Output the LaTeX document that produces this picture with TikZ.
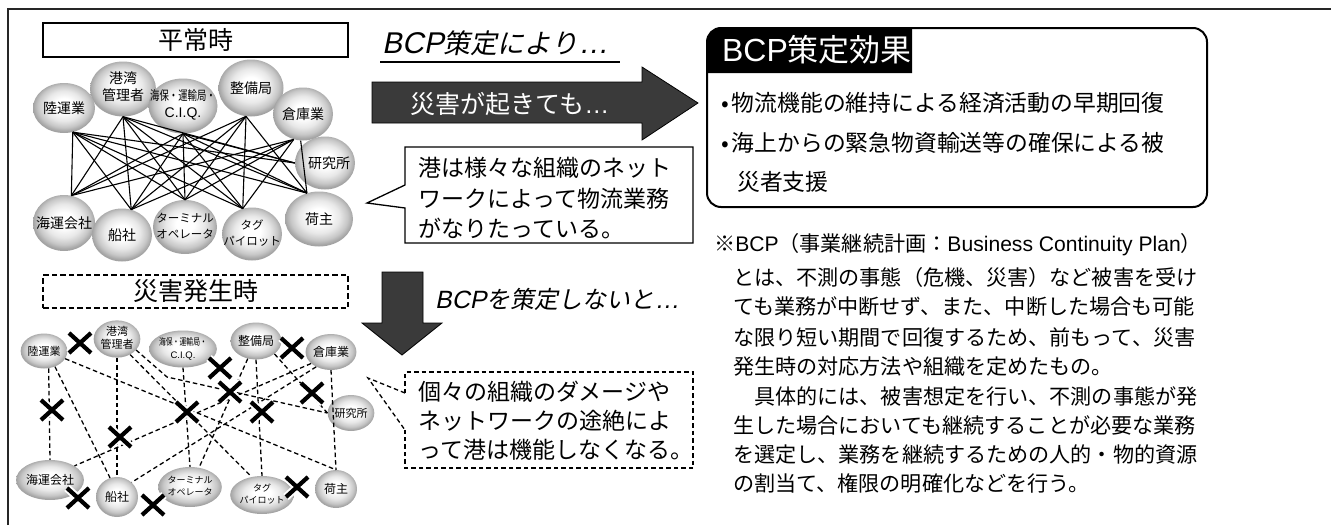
\documentclass[tikz,border=0pt]{standalone}
\usepackage{fontspec}
\setmainfont{Noto Sans CJK JP}
\newfontfamily\jpit[FakeSlant=0.2]{Noto Sans CJK JP}
\newfontfamily\lat{Liberation Sans}
\newfontfamily\latit[FakeSlant=0.2]{Liberation Sans}
\usetikzlibrary{shapes.geometric}
\newcommand{\myfs}[2]{\fontsize{#1}{#2}\selectfont}
\definecolor{arrowgray}{HTML}{3A3A3A}
\pgfdeclareradialshading{myball}{\pgfpoint{0bp}{3bp}}{color(0bp)=(white); color(7bp)=(white); color(15bp)=(black!9); color(21bp)=(black!22); color(25bp)=(black!36); color(50bp)=(black!36)}
\tikzset{
  ball/.style={ellipse, inner sep=0pt, shading=myball, align=center, text=black},
  sline/.style={line width=1.1pt, black},
  dline/.style={line width=1.3pt, black, dash pattern=on 4.5pt off 3pt},
  xhalo/.style={line width=8pt, white},
  xline/.style={line width=4.2pt, black},
  frameline/.style={line width=1.2pt, black!85},
  lbl/.style={inner sep=0pt, anchor=west, text=black},
  blockarrow/.style={fill=arrowgray, draw=black, line width=0.8pt},
}
\begin{document}
\begin{tikzpicture}[x=1pt,y=-1pt]
\useasboundingbox (0,0) rectangle (1331,525);
% outer frame
\draw[frameline] (8,525) -- (8,9) -- (1331,9);

% ---------- top network ----------
\node[draw, line width=1.5pt, minimum width=305pt, minimum height=34pt, inner sep=0pt] (heijo) at (195.5,40) {\myfs{25}{25}平常時};

\node[ball, minimum width=66pt, minimum height=55pt] (kowan) at (123,89) {};
\node[ball, minimum width=65pt, minimum height=57pt] (seibi) at (251,88) {};
\node[ball, minimum width=62pt, minimum height=50pt] (riku) at (64,108) {};
\node[ball, minimum width=69pt, minimum height=55pt] (kaiho) at (183,106) {};
\node[ball, minimum width=60pt, minimum height=53pt] (soko) at (303,114) {};
\node[ball, minimum width=60pt, minimum height=53pt] (kenkyu) at (325,163) {};
\node[ball, minimum width=62pt, minimum height=56pt] (kaiun) at (64,223) {};
\node[ball, minimum width=68pt, minimum height=55pt] (ninushi) at (319,219) {};
\node[ball, minimum width=64pt, minimum height=54pt] (terminal) at (185,227) {};
\node[ball, minimum width=60pt, minimum height=53pt] (sensha) at (122,235) {};
\node[ball, minimum width=60pt, minimum height=53pt] (tag) at (252,234) {};

% connectors
\foreach \t in {riku.-70, kowan.south, kaiho.south, seibi.-100}{
  \foreach \b in {kaiun.75, sensha.70, terminal.north, tag.110, ninushi.115}{
    \draw[sline] (\t) -- (\b);
  }
}
\foreach \b in {kaiun.75, sensha.70, terminal.north, tag.110}{
  \draw[sline] (soko.250) -- (\b);
}
\draw[sline] (soko.265) -- (ninushi.115);
\draw[sline] (riku.-70) -- (kenkyu.west);
\draw[sline] (kowan.south) -- (kenkyu.west);
\draw[sline] (kaiho.south) -- (kenkyu.west);

% labels
\node at (riku) {\myfs{14}{17}陸運業};
\node at (kowan) {\myfs{14}{17}\begin{tabular}{@{}c@{}}港湾\\管理者\end{tabular}};
\node at (kaiho) {\myfs{13}{17}\begin{tabular}{@{}c@{}}\scalebox{0.72}[1]{海保・運輸局・}\\\lat\myfs{14}{15}C.I.Q.\end{tabular}};
\node at (seibi) {\myfs{14}{17}整備局};
\node at (soko) {\myfs{14}{17}倉庫業};
\node at ([xshift=4pt]kenkyu.center) {\myfs{14}{17}研究所};
\node at (kaiun) {\myfs{14}{17}海運会社};
\node at (sensha) {\myfs{14}{17}船社};
\node at (terminal) {\myfs{11.5}{16}\begin{tabular}{@{}c@{}}ターミナル\\オペレータ\end{tabular}};
\node at (tag) {\myfs{11.5}{16}\begin{tabular}{@{}c@{}}タグ\\パイロット\end{tabular}};
\node at (ninushi) {\myfs{14}{17}荷主};

% ---------- bottom network ----------
\node[draw, line width=1.5pt, dash pattern=on 5.5pt off 3pt, minimum width=305pt, minimum height=33pt, inner sep=0pt] (saigai) at (195.5,291.5) {\myfs{25}{25}災害発生時};

\node[ball, minimum width=39pt, minimum height=35pt] (riku2) at (44,351) {\myfs{11}{13}陸運業};
\node[ball, minimum width=40pt, minimum height=37pt] (kowan2) at (117,339) {\myfs{11}{13}\begin{tabular}{@{}c@{}}港湾\\管理者\end{tabular}};
\node[ball, minimum width=44pt, minimum height=37pt] (kaiho2) at (183,349) {\myfs{9.5}{13}\begin{tabular}{@{}c@{}}\scalebox{0.72}[1]{海保・運輸局・}\\\lat C.I.Q.\end{tabular}};
\node[ball, minimum width=42pt, minimum height=37pt] (seibi2) at (256,341) {\myfs{12}{13}整備局};
\node[ball, minimum width=40pt, minimum height=36pt] (soko2) at (331,352) {\myfs{12}{13}倉庫業};
\node[ball, minimum width=40pt, minimum height=36pt] (kenkyu2) at (351,413) {\myfs{11}{13}研究所};
\node[ball, minimum width=44pt, minimum height=40pt] (kaiun2) at (50,480) {\myfs{12}{13}海運会社};
\node[ball, minimum width=42pt, minimum height=40pt] (sensha2) at (117,497) {\myfs{12}{13}船社};
\node[ball, minimum width=44pt, minimum height=40pt] (terminal2) at (190,487) {\myfs{9}{12}\begin{tabular}{@{}c@{}}ターミナル\\オペレータ\end{tabular}};
\node[ball, minimum width=42pt, minimum height=38pt] (tag2) at (262,495) {\myfs{9}{12}\begin{tabular}{@{}c@{}}タグ\\パイロット\end{tabular}};
\node[ball, minimum width=42pt, minimum height=38pt] (ninushi2) at (336,489) {\myfs{12}{13}荷主};

\coordinate (bend) at (167,377);
\coordinate (xk) at (214,364);
\draw[dline] (riku2.-75) -- (kaiun2.north);
\draw[dline] (riku2.-55) -- (sensha2.110);
\draw[dline] (riku2.-20) -- (ninushi2.north);
\draw[dline] (kowan2.south) -- (sensha2.north);
\draw[dline] (kowan2.-50) -- (tag2.120);
\draw[dline] (kowan2.-30) -- (bend) -- (kenkyu2.west);
\draw[dline] (kaiho2.south) -- (terminal2.north);
\draw[dline] (kaiho2.-25) -- (xk);
\draw[dline] (seibi2.south) -- (tag2.north);
\draw[dline] (seibi2.-35) -- (kenkyu2.west);
\draw[dline] (seibi2.-115) -- (terminal2.65);
\draw[dline] (soko2.south) -- (ninushi2.north);
\draw[dline] (soko2.-150) -- (kaiun2.30);
\draw[dline] (soko2.-135) -- (sensha2.45);

\foreach \p/\q in {80/343, 52/410, 220/368, 292/348, 230/392, 187/412, 120/437, 262/412, 312/393, 78/498, 153/505, 297/487}{
  \draw[xhalo] (\p-11,\q-10) -- (\p+11,\q+10) (\p-11,\q+10) -- (\p+11,\q-10);
  \draw[xline] (\p-11,\q-10) -- (\p+11,\q+10) (\p-11,\q+10) -- (\p+11,\q-10);
}

% ---------- middle column ----------
\node[lbl] (bcpyori) at (382,43) {\myfs{27}{27}\jpit{\latit\myfs{30}{30}BCP}策定により{\latit\myfs{30}{30}…}};
\draw[line width=1.5pt] (380,62) -- (620,62);

\draw[blockarrow] (372,82) -- (642,82) -- (642,67) -- (698,103) -- (642,140) -- (642,123) -- (372,123) -- cycle;
\node[text=white, inner sep=0pt] (okitemo) at (510,104) {\myfs{25}{25}災害が起きても{\lat …}};

% solid callout
\draw[fill=white, line width=1.3pt] (405,185) -- (405,147) -- (693,147) -- (693,243) -- (405,243) -- (405,208) -- (367,203) -- cycle;
\node[lbl] (c1a) at (418,168) {\myfs{23}{23}港は様々な組織のネット};
\node[lbl] (c1b) at (418,199) {\myfs{23}{23}ワークによって物流業務};
\node[lbl] (c1c) at (418,228) {\myfs{23}{23}がなりたっている。};

% down arrow
\draw[blockarrow] (382,272) -- (423,272) -- (423,323) -- (442,323) -- (402,355) -- (362,323) -- (382,323) -- cycle;
\node[lbl] (shinaito) at (435,299) {\myfs{24}{24}\jpit{\latit\myfs{25}{25}BCP}を策定しないと{\latit\myfs{25}{25}…}};

% dashed callout
\draw[fill=white, line width=1.3pt, dash pattern=on 4.5pt off 3pt] (405,393) -- (405,372) -- (693,372) -- (693,468) -- (405,468) -- (405,430);
\draw[line width=1.3pt, dash pattern=on 4.5pt off 3pt] (405,393) -- (368,378) -- (405,430);
\node[lbl] (c2a) at (418,392) {\myfs{23}{23}個々の組織のダメージや};
\node[lbl] (c2b) at (418,421) {\myfs{23}{23}ネットワークの途絶によ};
\node[lbl] (c2c) at (418,450) {\myfs{23}{23}って港は機能しなくなる。};

% ---------- right column ----------
\fill[black] (912,73) -- (707,73) [rounded corners=14pt] -- (707,28) [sharp corners] -- (912,28) -- cycle;
\draw[line width=2pt, rounded corners=14pt] (707,28) rectangle (1207,207);
\node[text=white, inner sep=0pt] (kouka) at (817,50) {\myfs{31}{31}{\lat\myfs{32}{32}BCP}策定効果};
\node[lbl] (b1) at (721,103) {\myfs{22.8}{23}•\hspace{3pt}物流機能の維持による経済活動の早期回復};
\node[lbl] (b2) at (721,143) {\myfs{22.8}{23}•\hspace{3pt}海上からの緊急物資輸送等の確保による被};
\node[lbl] (b3) at (737,182) {\myfs{22.8}{23}災者支援};

\node[lbl] (n1) at (714,245) {\myfs{21.1}{22}※{\lat BCP}（事業継続計画：{\lat Business Continuity Plan}）};
\node[lbl] (n2) at (733,277) {\myfs{21.1}{22}とは、不測の事態（危機、災害）など被害を受け};
\node[lbl] (n3) at (733,307) {\myfs{21.1}{22}ても業務が中断せず、また、中断した場合も可能};
\node[lbl] (n4) at (733,337) {\myfs{21.1}{22}な限り短い期間で回復するため、前もって、災害};
\node[lbl] (n5) at (733,367) {\myfs{21.1}{22}発生時の対応方法や組織を定めたもの。};
\node[lbl] (n6) at (733,396) {\myfs{21.1}{22}　具体的には、被害想定を行い、不測の事態が発};
\node[lbl] (n7) at (733,425) {\myfs{21.1}{22}生した場合においても継続することが必要な業務};
\node[lbl] (n8) at (733,454) {\myfs{21.1}{22}を選定し、業務を継続するための人的・物的資源};
\node[lbl] (n9) at (733,483) {\myfs{21.1}{22}の割当て、権限の明確化などを行う。};
\end{tikzpicture}
\end{document}
